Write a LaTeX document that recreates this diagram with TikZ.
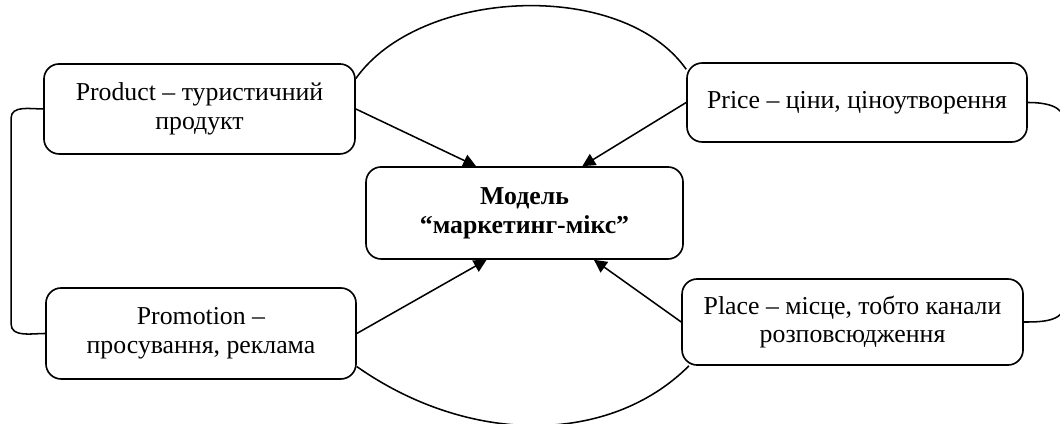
\documentclass[tikz,border=0pt]{standalone}
\usepackage{fontspec}
\setmainfont{Liberation Serif}
\usetikzlibrary{arrows.meta}
\tikzset{
	mixbox/.style={draw, rounded corners=0.26cm, line width=0.8pt, align=center, inner sep=0pt, font=\fontsize{12.6}{14}\selectfont},
	mixarrow/.style={line width=0.75pt, -{Triangle[length=2.2mm, width=2.2mm]}},
	mixline/.style={line width=0.75pt}
}

\begin{document}
\begin{tikzpicture}
			%%%%% BOXES %%%%%
			
			\clip (0, 0) rectangle (18.2, 7.28);
			
			\node[mixbox, minimum width=5.34cm, minimum height=1.545cm] (product) at (3.425, 5.409) {Product – туристичний\\продукт};
			\node[mixbox, minimum width=5.838cm, minimum height=1.356cm] (price) at (14.715, 5.52) {Price – ціни, ціноутворення};
			\node[mixbox, minimum width=5.443cm, minimum height=1.58cm, font=\fontsize{12.6}{14.2}\selectfont\bfseries] (model) at (9.006, 3.623) {Модель\\“маркетинг-мікс”};
			\node[mixbox, minimum width=5.323cm, minimum height=1.562cm] (promotion) at (3.451, 1.554) {Promotion –\\просування, реклама};
			\node[mixbox, minimum width=5.855cm, minimum height=1.477cm] (place) at (14.638, 1.751) {Place – місце, тобто канали\\розповсюдження};
			
			%%%%% ARROWS %%%%%
			
			\draw[mixarrow] (product.east) -- (model.136);
			\draw[mixarrow] (price.west) -- (model.39);
			\draw[mixarrow] (promotion.east) -- (model.231);
			\draw[mixarrow] (place.west) -- (model.326);
			
			%%%%% ARCS %%%%%
			
			\draw[mixline] (product.11) .. controls +(1.10, 1.56) and +(-1.10, 1.56) .. (price.169);
			\draw[mixline] (promotion.-12) .. controls +(1.94, -1.36) and +(-1.36, -1.36) .. (place.195);
			
			\draw[mixline] (product.west) to[out=180, in=90] (0.19, 5.25) -- (0.19, 1.72) to[out=-90, in=180] (promotion.west);
			\draw[mixline] (price.east) to[out=0, in=90] (18.27, 5.2) -- (18.27, 2.05) to[out=-90, in=0] (place.east);
			
\end{tikzpicture}
\end{document}
